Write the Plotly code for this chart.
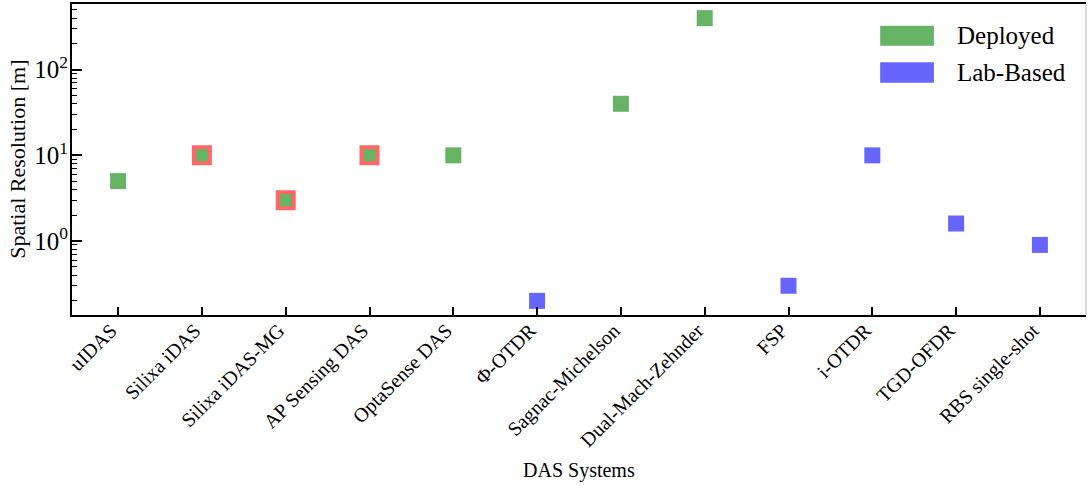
import plotly.graph_objects as go

categories = ["uIDAS", "Silixa iDAS", "Silixa iDAS-MG", "AP Sensing DAS", "OptaSense DAS",
              "Φ-OTDR", "Sagnac-Michelson", "Dual-Mach-Zehnder", "FSP", "i-OTDR",
              "TGD-OFDR", "RBS single-shot"]
resolution_m = [5, 10, 3, 10, 10, 0.2, 40, 400, 0.3, 10, 1.6, 0.9]
system_type = ["Deployed", "Deployed", "Deployed", "Deployed", "Deployed", "Lab-Based",
               "Deployed", "Deployed", "Lab-Based", "Lab-Based", "Lab-Based", "Lab-Based"]
highlighted = [False, True, True, True, False, False, False, False, False, False, False, False]

GREEN = "#66b366"
BLUE = "#6666ff"
RED = "#ff6666"
FONT = "Liberation Serif, Times New Roman, serif"

fig = go.Figure()
for name, color in [("Deployed", GREEN), ("Lab-Based", BLUE)]:
    idx = [i for i, t in enumerate(system_type) if t == name]
    fig.add_trace(go.Scatter(
        x=[categories[i] for i in idx],
        y=[resolution_m[i] for i in idx],
        mode="markers",
        name=name,
        showlegend=False,
        marker=dict(
            symbol="square", size=16, color=color,
            line=dict(color=RED, width=[4 if highlighted[i] else 0 for i in idx]),
        ),
    ))

# minor ticks for log axis
minor_vals = []
for d in [0.1, 1, 10, 100]:
    for m in range(2, 10):
        minor_vals.append(d * m)

fig.update_xaxes(
    categoryorder="array", categoryarray=categories,
    range=[-0.55, 11.55], automargin=False,
    showline=True, linecolor="black", linewidth=2, mirror=True,
    ticks="inside", ticklen=8, tickwidth=1.5, tickcolor="black",
    tickangle=-45, ticklabelshift=-7, ticklabelstandoff=-6,
    tickfont=dict(family=FONT, size=20, color="black"),
    showgrid=False, zeroline=False,
)
fig.update_yaxes(
    type="log", range=[-0.864, 2.767], automargin=False,
    showline=True, linecolor="black", linewidth=2, mirror=False,
    ticks="inside", ticklen=10, tickwidth=1.5, tickcolor="black",
    tickvals=[1, 10, 100], ticktext=["10<sup>0</sup>", "10<sup>1</sup>", "10<sup>2</sup>"],
    tickfont=dict(family=FONT, size=25, color="black"), ticklabelstandoff=-3,
    minor=dict(tickvals=minor_vals, ticks="inside", ticklen=5, tickwidth=1.2, tickcolor="black", showgrid=False),
    showgrid=False, zeroline=False,
)

# axis titles
fig.add_annotation(xref="paper", yref="paper", x=0.5, y=-0.5, text="DAS Systems",
                   showarrow=False, xanchor="center", yanchor="middle",
                   font=dict(family=FONT, size=20, color="black"))
fig.add_annotation(xref="paper", yref="paper", x=-0.054, y=0.5, text="Spatial Resolution [m]",
                   showarrow=False, xanchor="center", yanchor="middle", textangle=-90,
                   font=dict(family=FONT, size=22, color="black"))

# right spine (thin grey)
fig.add_shape(type="line", xref="paper", yref="paper", x0=1, x1=1, y0=0, y1=1,
              line=dict(color="#bbbbbb", width=1))

# legend drawn as patches
legend_items = [("Deployed", GREEN, 0.930, 0.866), ("Lab-Based", BLUE, 0.8125, 0.747)]
for label, color, y1, y0 in legend_items:
    fig.add_shape(type="rect", xref="paper", yref="paper", x0=0.797, x1=0.850, y0=y0, y1=y1,
                  fillcolor=color, line=dict(width=0))
    fig.add_annotation(xref="paper", yref="paper", x=0.871, y=(y0 + y1) / 2, text=label,
                       showarrow=False, xanchor="left", yanchor="middle",
                       font=dict(family=FONT, size=25, color="black"))

fig.update_layout(
    width=1090, height=486,
    margin=dict(l=72, r=4, t=4, b=171, autoexpand=False),
    plot_bgcolor="white", paper_bgcolor="white",
    font=dict(family=FONT, color="black"),
)

fig.write_html("out.html", config={"displayModeBar": False},
               post_script="document.body.style.margin='0';document.body.style.padding='0';")
